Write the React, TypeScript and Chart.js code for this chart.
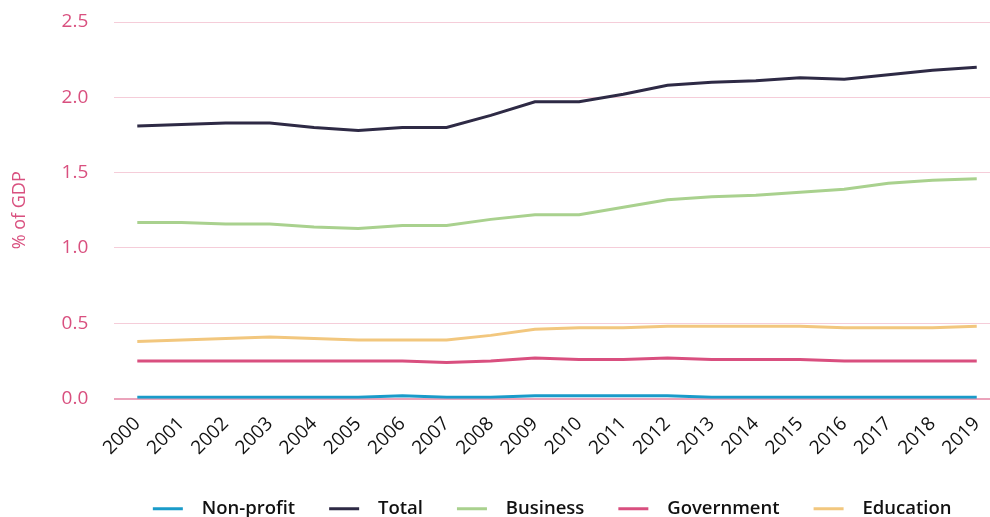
import React, { useEffect, useRef } from "react";
import { Chart, registerables } from "chart.js";

Chart.register(...registerables);

const years = [2000, 2001, 2002, 2003, 2004, 2005, 2006, 2007, 2008, 2009, 2010, 2011, 2012, 2013, 2014, 2015, 2016, 2017, 2018, 2019];

const nonProfit = [0.01, 0.01, 0.01, 0.01, 0.01, 0.01, 0.02, 0.01, 0.01, 0.02, 0.02, 0.02, 0.02, 0.01, 0.01, 0.01, 0.01, 0.01, 0.01, 0.01];
const total = [1.81, 1.82, 1.83, 1.83, 1.80, 1.78, 1.80, 1.80, 1.88, 1.97, 1.97, 2.02, 2.08, 2.10, 2.11, 2.13, 2.12, 2.15, 2.18, 2.20];
const business = [1.17, 1.17, 1.16, 1.16, 1.14, 1.13, 1.15, 1.15, 1.19, 1.22, 1.22, 1.27, 1.32, 1.34, 1.35, 1.37, 1.39, 1.43, 1.45, 1.46];
const government = [0.25, 0.25, 0.25, 0.25, 0.25, 0.25, 0.25, 0.24, 0.25, 0.27, 0.26, 0.26, 0.27, 0.26, 0.26, 0.26, 0.25, 0.25, 0.25, 0.25];
const education = [0.38, 0.39, 0.40, 0.41, 0.40, 0.39, 0.39, 0.39, 0.42, 0.46, 0.47, 0.47, 0.48, 0.48, 0.48, 0.48, 0.47, 0.47, 0.47, 0.48];

const seriesNames = ["Non-profit", "Total", "Business", "Government", "Education"];
const seriesColors = ["#1a9bc9", "#2e2a45", "#a9d18e", "#d94f7f", "#f2c77e"];
const seriesValues = [nonProfit, total, business, government, education];

const FONT = "'Open Sans', 'Noto Sans', sans-serif";

export default function App() {
  const ref = useRef<HTMLCanvasElement | null>(null);

  useEffect(() => {
    if (!ref.current) return;
    const chart = new Chart(ref.current, {
      type: "line",
      data: {
        datasets: seriesNames.map((name, i) => ({
          label: "  " + name,
          data: seriesValues[i].map((v, j) => ({ x: years[j], y: v })),
          borderColor: seriesColors[i],
          backgroundColor: seriesColors[i],
          borderWidth: 3,
          pointRadius: 0,
          pointHoverRadius: 0,
          tension: 0,
          fill: false,
        })),
      },
      options: {
        animation: false,
        responsive: false,
        maintainAspectRatio: false,
        layout: { padding: { left: 0, right: 0, top: 22, bottom: -11 } },
        plugins: {
          tooltip: { enabled: false },
          legend: {
            position: "bottom",
            fullSize: false,
            labels: {
              usePointStyle: true,
              pointStyle: "line",
              pointStyleWidth: 30,
              color: "#111",
              padding: 34,
              font: { family: FONT, size: 18.5, weight: "600" },
            },
          },
        },
        scales: {
          x: {
            type: "linear",
            min: 1999.48,
            max: 2019.3,
            grid: { display: false },
            border: { display: false },
            afterBuildTicks: (axis: any) => {
              axis.ticks = years.map((y) => ({ value: y }));
            },
            afterFit: (axis: any) => {
              axis.paddingLeft = 0;
              axis.paddingRight = 0;
            },
            ticks: {
              autoSkip: false,
              maxRotation: 45,
              minRotation: 45,
              color: "#111",
              padding: 6,
              font: { family: FONT, size: 19 },
              callback: (v: any) => String(v),
            },
          },
          y: {
            min: 0,
            max: 2.5,
            border: { display: false },
            grid: {
              color: (c: any) => (c.tick && c.tick.value === 0 ? "#eba3bb" : "#f5cdd9"),
              lineWidth: (c: any) => (c.tick && c.tick.value === 0 ? 2 : 1),
              drawTicks: true,
              tickLength: 24,
              tickColor: "rgba(0,0,0,0)",
            },
            ticks: {
              stepSize: 0.5,
              color: "#d9507f",
              padding: 2,
              font: { family: FONT, size: 19 },
              callback: (v: any) => Number(v).toFixed(1),
            },
            title: {
              display: true,
              text: "% of GDP",
              color: "#d9507f",
              font: { family: FONT, size: 18 },
              padding: { top: 9, bottom: 29 },
            },
          },
        },
      },
    });
    return () => chart.destroy();
  }, []);

  return (
    <div style={{ position: "fixed", left: 0, top: 0, width: 990, height: 517, background: "#fff" }}>
      <canvas ref={ref} width={990} height={517} style={{ width: 990, height: 517 }} />
    </div>
  );
}
